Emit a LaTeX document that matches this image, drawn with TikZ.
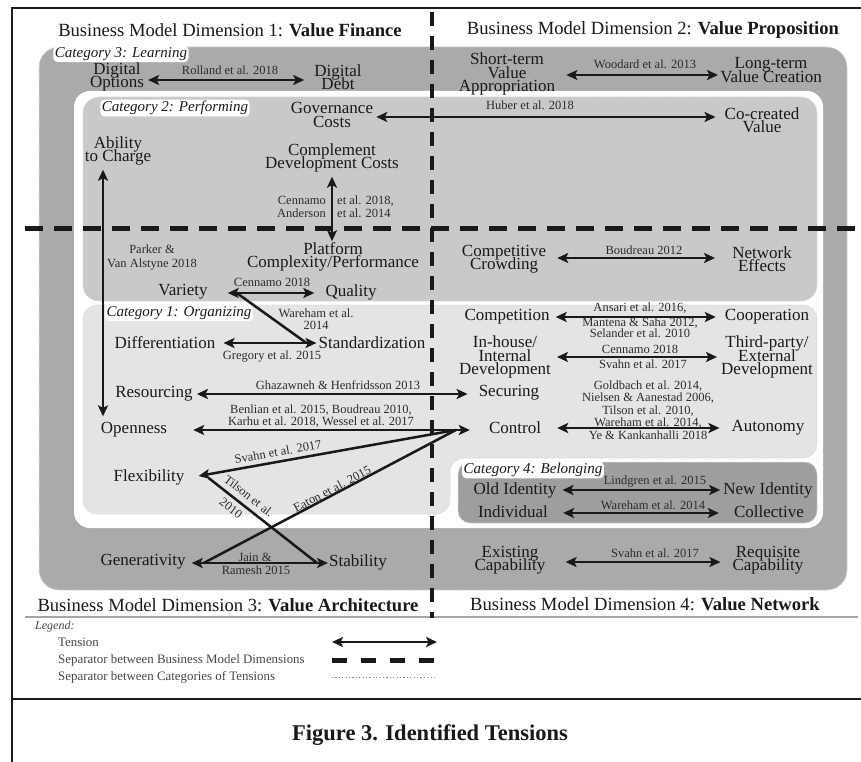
\documentclass[tikz,border=0pt]{standalone}
\usepackage{fontspec}
\setmainfont{Liberation Serif}
\usetikzlibrary{arrows.meta,calc}
\definecolor{cthree}{gray}{0.665}
\definecolor{ctwo}{gray}{0.79}
\definecolor{cone}{gray}{0.895}
\definecolor{cfour}{gray}{0.62}
\definecolor{ink}{gray}{0.1}
\definecolor{cink}{gray}{0.17}
\definecolor{lgink}{gray}{0.28}
\definecolor{bord}{gray}{0.86}
\begin{document}
\begin{tikzpicture}[x=1pt,y=-1pt,
 >={Stealth[length=11pt,width=10pt,inset=2.5pt]},
 lab/.style={font=\fontsize{17}{13.5}\selectfont, align=center, inner sep=0pt, text=ink},
 cite/.style={font=\fontsize{12.5}{12.5}\selectfont, align=center, inner sep=0pt, text=cink},
 catlab/.style={font=\fontsize{15}{15}\selectfont\itshape, fill=white, rounded corners=4pt, inner sep=1.5pt, text=ink},
 dimlab/.style={font=\fontsize{18.6}{18.6}\selectfont, inner sep=0pt, text=ink},
 legt/.style={anchor=west, font=\fontsize{12.9}{12.9}\selectfont, inner sep=0pt, text=lgink},
 tarrow/.style={<->, line width=2.5pt, draw=ink},
 tlink/.style={line width=2.5pt, draw=ink},
 dimsepv/.style={line width=4.5pt, draw=ink, dash pattern=on 14pt off 10pt},
 dimseph/.style={line width=5pt, draw=ink, dash pattern=on 18pt off 11pt},
 catborder/.style={draw=bord, line width=1pt, dash pattern=on 1.2pt off 1.2pt},
]
\lineskiplimit=-30pt
\useasboundingbox (0,0) rectangle (861,762);
\fill[white] (0,0) rectangle (861,762);

% frame
\draw[line width=2.5pt, ink] (12,762) -- (12,8) -- (870,8);
\draw[line width=2.5pt, ink] (12,699) -- (870,699);
\draw[line width=1.2pt, gray!70] (25,617) -- (858,617);

% regions
\fill[cthree, rounded corners=20] (39,47) rectangle (847,590);
\draw[catborder, rounded corners=20] (39,47) rectangle (847,590);
\fill[white, rounded corners=16] (74,91) rectangle (823,528);
\fill[ctwo, rounded corners=16] (83,97) rectangle (817,301);
\draw[catborder, rounded corners=16] (83,97) rectangle (817,301);
\fill[cone, rounded corners=14] (83,305) -- (817,305) -- (817,458) -- (450,458) -- (450,514) -- (83,514) -- cycle;
\draw[catborder, rounded corners=14] (83,305) -- (817,305) -- (817,458) -- (450,458) -- (450,514) -- (83,514) -- cycle;
\fill[cfour, rounded corners=12] (458,462) rectangle (817,523);
\draw[catborder, rounded corners=12] (458,462) rectangle (817,523);

% dimension separators
\draw[dimsepv] (432,12) -- (432,618);
\draw[dimseph] (25,228) -- (861,228);

% dimension labels
\node[dimlab] (d1) at (230,30) {Business Model Dimension 1: \textbf{Value Finance}};
\node[dimlab] (d2) at (653,30) {Business Model Dimension 2: \textbf{Value Proposition}};
\node[dimlab] (d3) at (228,605) {Business Model Dimension 3: \textbf{Value Architecture}};
\node[dimlab] (d4) at (645,604) {Business Model Dimension 4: \textbf{Value Network}};

% concept nodes
\node[lab] (dop) at (117,77) {Digital\\Options};
\node[lab] (ddb) at (338,77) {Digital\\Debt};
\node[lab] (stv) at (507,74) {Short-term\\Value\\Appropriation};
\node[lab] (ltv) at (771,70) {Long-term\\Value Creation};
\node[lab] (gov) at (332,115) {Governance\\Costs};
\node[lab] (ccv) at (762,120) {Co-created\\Value};
\node[lab] (abc) at (118,151) {Ability\\to Charge};
\node[lab] (cdc) at (332,158) {Complement\\Development Costs};
\node[lab] (pcp) at (333,257) {Platform\\Complexity/Performance};
\node[lab] (var) at (183,292) {Variety};
\node[lab] (qua) at (351,292) {Quality};
\node[lab] (dif) at (165,343) {Differentiation};
\node[lab] (sta) at (372,343) {Standardization};
\node[lab] (res) at (154,394) {Resourcing};
\node[lab] (sec) at (509,393) {Securing};
\node[lab] (ope) at (134,430) {Openness};
\node[lab] (con) at (515,428) {Control};
\node[lab] (fle) at (149,477) {Flexibility};
\node[lab] (gen) at (143,562) {Generativity};
\node[lab] (stb) at (358,562) {Stability};
\node[lab] (ccr) at (504,259) {Competitive\\Crowding};
\node[lab] (nef) at (762,259) {Network\\Effects};
\node[lab] (cpt) at (507,317) {Competition};
\node[lab] (coo) at (767,317) {Cooperation};
\node[lab] (inh) at (505,357) {In-house/\\Internal\\Development};
\node[lab] (thp) at (767,357) {Third-party/\\External\\Development};
\node[lab] (aut) at (768,428) {Autonomy};
\node[lab] (oid) at (515,490) {Old Identity};
\node[lab] (nid) at (768,490) {New Identity};
\node[lab] (ind) at (513,512) {Individual};
\node[lab] (col) at (769,512) {Collective};
\node[lab] (exc) at (510,560) {Existing\\Capability};
\node[lab] (req) at (768,560) {Requisite\\Capability};

% tensions
\draw[tarrow] ($(dop.east)+(4,3)$) coordinate (t) -- ($(t -| ddb.west)+(-10,0)$);
\draw[tarrow] ($(stv.east)+(11,1)$) coordinate (t) -- ($(t -| ltv.west)+(-2,0)$);
\draw[tarrow] ($(gov.east)+(3,2)$) coordinate (t) -- ($(t -| ccv.west)+(-9,0)$);
\draw[tarrow] ($(abc.south)+(-15,4)$) coordinate (t) -- ($(t |- ope.north)+(0,-6)$);
\draw[tarrow] ($(cdc.south)+(0,4)$) coordinate (t) -- ($(t |- pcp.north)+(0,-1)$);
\draw[tarrow] ($(var.east)+(20,1)$) coordinate (t) -- ($(t -| qua.west)+(-11,0)$);
\draw[tlink] ($(var.east)+(29,1)$) -- ($(sta.west)+(-12,0)$);
\draw[tarrow] ($(dif.east)+(8,0)$) coordinate (t) -- ($(t -| sta.west)+(-2,0)$);
\draw[tarrow] ($(res.east)+(4,0)$) coordinate (t) -- ($(t -| sec.west)+(-11,0)$);
\draw[tarrow] ($(ope.east)+(26,0)$) coordinate (t) -- ($(t -| con.west)+(-19,0)$);
\draw[tlink, ->] ($(con.west)+(-33,2)$) -- ($(fle.east)+(14,-1)$);
\draw[tlink] ($(fle.east)+(24,1)$) -- ($(stb.west)+(-12,1)$);
\draw[tarrow] ($(gen.east)+(6,1)$) coordinate (t) -- ($(t -| stb.west)+(-1,0)$);
\draw[tlink] ($(gen.east)+(18,1)$) -- ($(con.west)+(-33,2)$);
\draw[tarrow] ($(ccr.east)+(11,-1)$) coordinate (t) -- ($(t -| nef.west)+(-17,0)$);
\draw[tarrow] ($(cpt.east)+(6,0)$) coordinate (t) -- ($(t -| coo.west)+(-9,0)$);
\draw[tarrow] ($(inh.east)+(6,0)$) coordinate (t) -- ($(t -| thp.west)+(-4,0)$);
\draw[tarrow] ($(con.east)+(16,0)$) coordinate (t) -- ($(t -| aut.west)+(-12,0)$);
\draw[tarrow] ($(oid.east)+(6,0)$) coordinate (t) -- ($(t -| nid.west)+(-3,0)$);
\draw[tarrow] ($(ind.east)+(15,1)$) coordinate (t) -- ($(t -| col.west)+(-15,0)$);
\draw[tarrow] ($(exc.east)+(20,2)$) coordinate (t) -- ($(t -| req.west)+(-12,0)$);

% citations
\node[cite] (r1) at (230,70) {Rolland et al. 2018};
\node[cite] (r2) at (645,64) {Woodard et al. 2013};
\node[cite] (r3) at (530,105) {Huber et al. 2018};
\node[cite, font=\fontsize{12.5}{14}\selectfont] (r4) at (152,258) {Parker \&\\Van Alstyne 2018};
\node[cite, align=right, anchor=east] (r5a) at (326,207) {Cennamo\\Anderson};
\node[cite, align=left, anchor=west] (r5b) at (337,207) {et al. 2018,\\et al. 2014};
\node[cite] (r6) at (272,282) {Cennamo 2018};
\node[cite, font=\fontsize{12.5}{12}\selectfont] (r7) at (316,319) {Wareham et al.\\2014};
\node[cite] (r8) at (272,357) {Gregory et al. 2015};
\node[cite] (r9) at (338,385) {Ghazawneh \& Henfridsson 2013};
\node[cite, font=\fontsize{12.5}{12}\selectfont] (r10) at (321,416) {Benlian et al. 2015, Boudreau 2010,\\Karhu et al. 2018, Wessel et al. 2017};
\node[cite, rotate=9.75] (r11) at (278,452) {Svahn et al. 2017};
\node[cite, rotate=-38] (r12a) at (249,496) {Tilson et al.};
\node[cite, rotate=-38] (r12b) at (231,508) {2010};
\node[cite, rotate=27.7] (r13) at (332,489) {Eaton et al. 2015};
\node[cite] (r14a) at (255,557) {Jain \&};
\node[cite] (r14b) at (256,570) {Ramesh 2015};
\node[cite] (r15) at (644,250) {Boudreau 2012};
\node[cite] (r16a) at (640,308) {Ansari et al. 2016,};
\node[cite, font=\fontsize{12.5}{10.5}\selectfont] (r16b) at (640,328) {Mantena \& Saha 2012,\\Selander et al. 2010};
\node[cite] (r17a) at (640,349) {Cennamo 2018};
\node[cite] (r17b) at (643,364) {Svahn et al. 2017};
\node[cite] (r18) at (648,410) {Goldbach et al. 2014,\\Nielsen \& Aanestad 2006,\\Tilson et al. 2010,\\Wareham et al. 2014,\\Ye \& Kankanhalli 2018};
\node[cite] (r19) at (655,482) {Lindgren et al. 2015};
\node[cite] (r20) at (653,505) {Wareham et al. 2014};
\node[cite] (r21) at (655,553) {Svahn et al. 2017};

% category labels
\node[catlab] (k3) at (121,54) {Category 3: Learning};
\node[catlab] (k2) at (175,108) {Category 2: Performing};
\node[catlab] (k1) at (179,313) {Category 1: Organizing};
\node[catlab] (k4) at (533,470) {Category 4: Belonging};

% legend
\node[anchor=west, inner sep=0pt, font=\fontsize{12}{12}\selectfont\itshape, text=lgink] (lg) at (35,627) {Legend:};
\node[legt] (lg1) at (58,642) {Tension};
\node[legt] (lg2) at (58,660) {Separator between Business Model Dimensions};
\node[legt] (lg3) at (58,677) {Separator between Categories of Tensions};
\coordinate (la1) at (332,642); \coordinate (la2) at (437,642);
\coordinate (lb1) at (332,660); \coordinate (lb2) at (435,660);
\coordinate (lc1) at (332,677); \coordinate (lc2) at (435,677);
\draw[tarrow] (la1) -- (la2);
\draw[line width=5pt, draw=ink, dash pattern=on 15pt off 14pt] (lb1) -- (lb2);
\draw[line width=0.8pt, draw=gray, dash pattern=on 1.2pt off 2.2pt] (lc1) -- (lc2);

% caption
\node[inner sep=0pt, font=\fontsize{22.5}{22.5}\selectfont\bfseries, text=ink] (cap) at (430,735) {Figure 3. Identified Tensions};
\end{tikzpicture}
\end{document}
